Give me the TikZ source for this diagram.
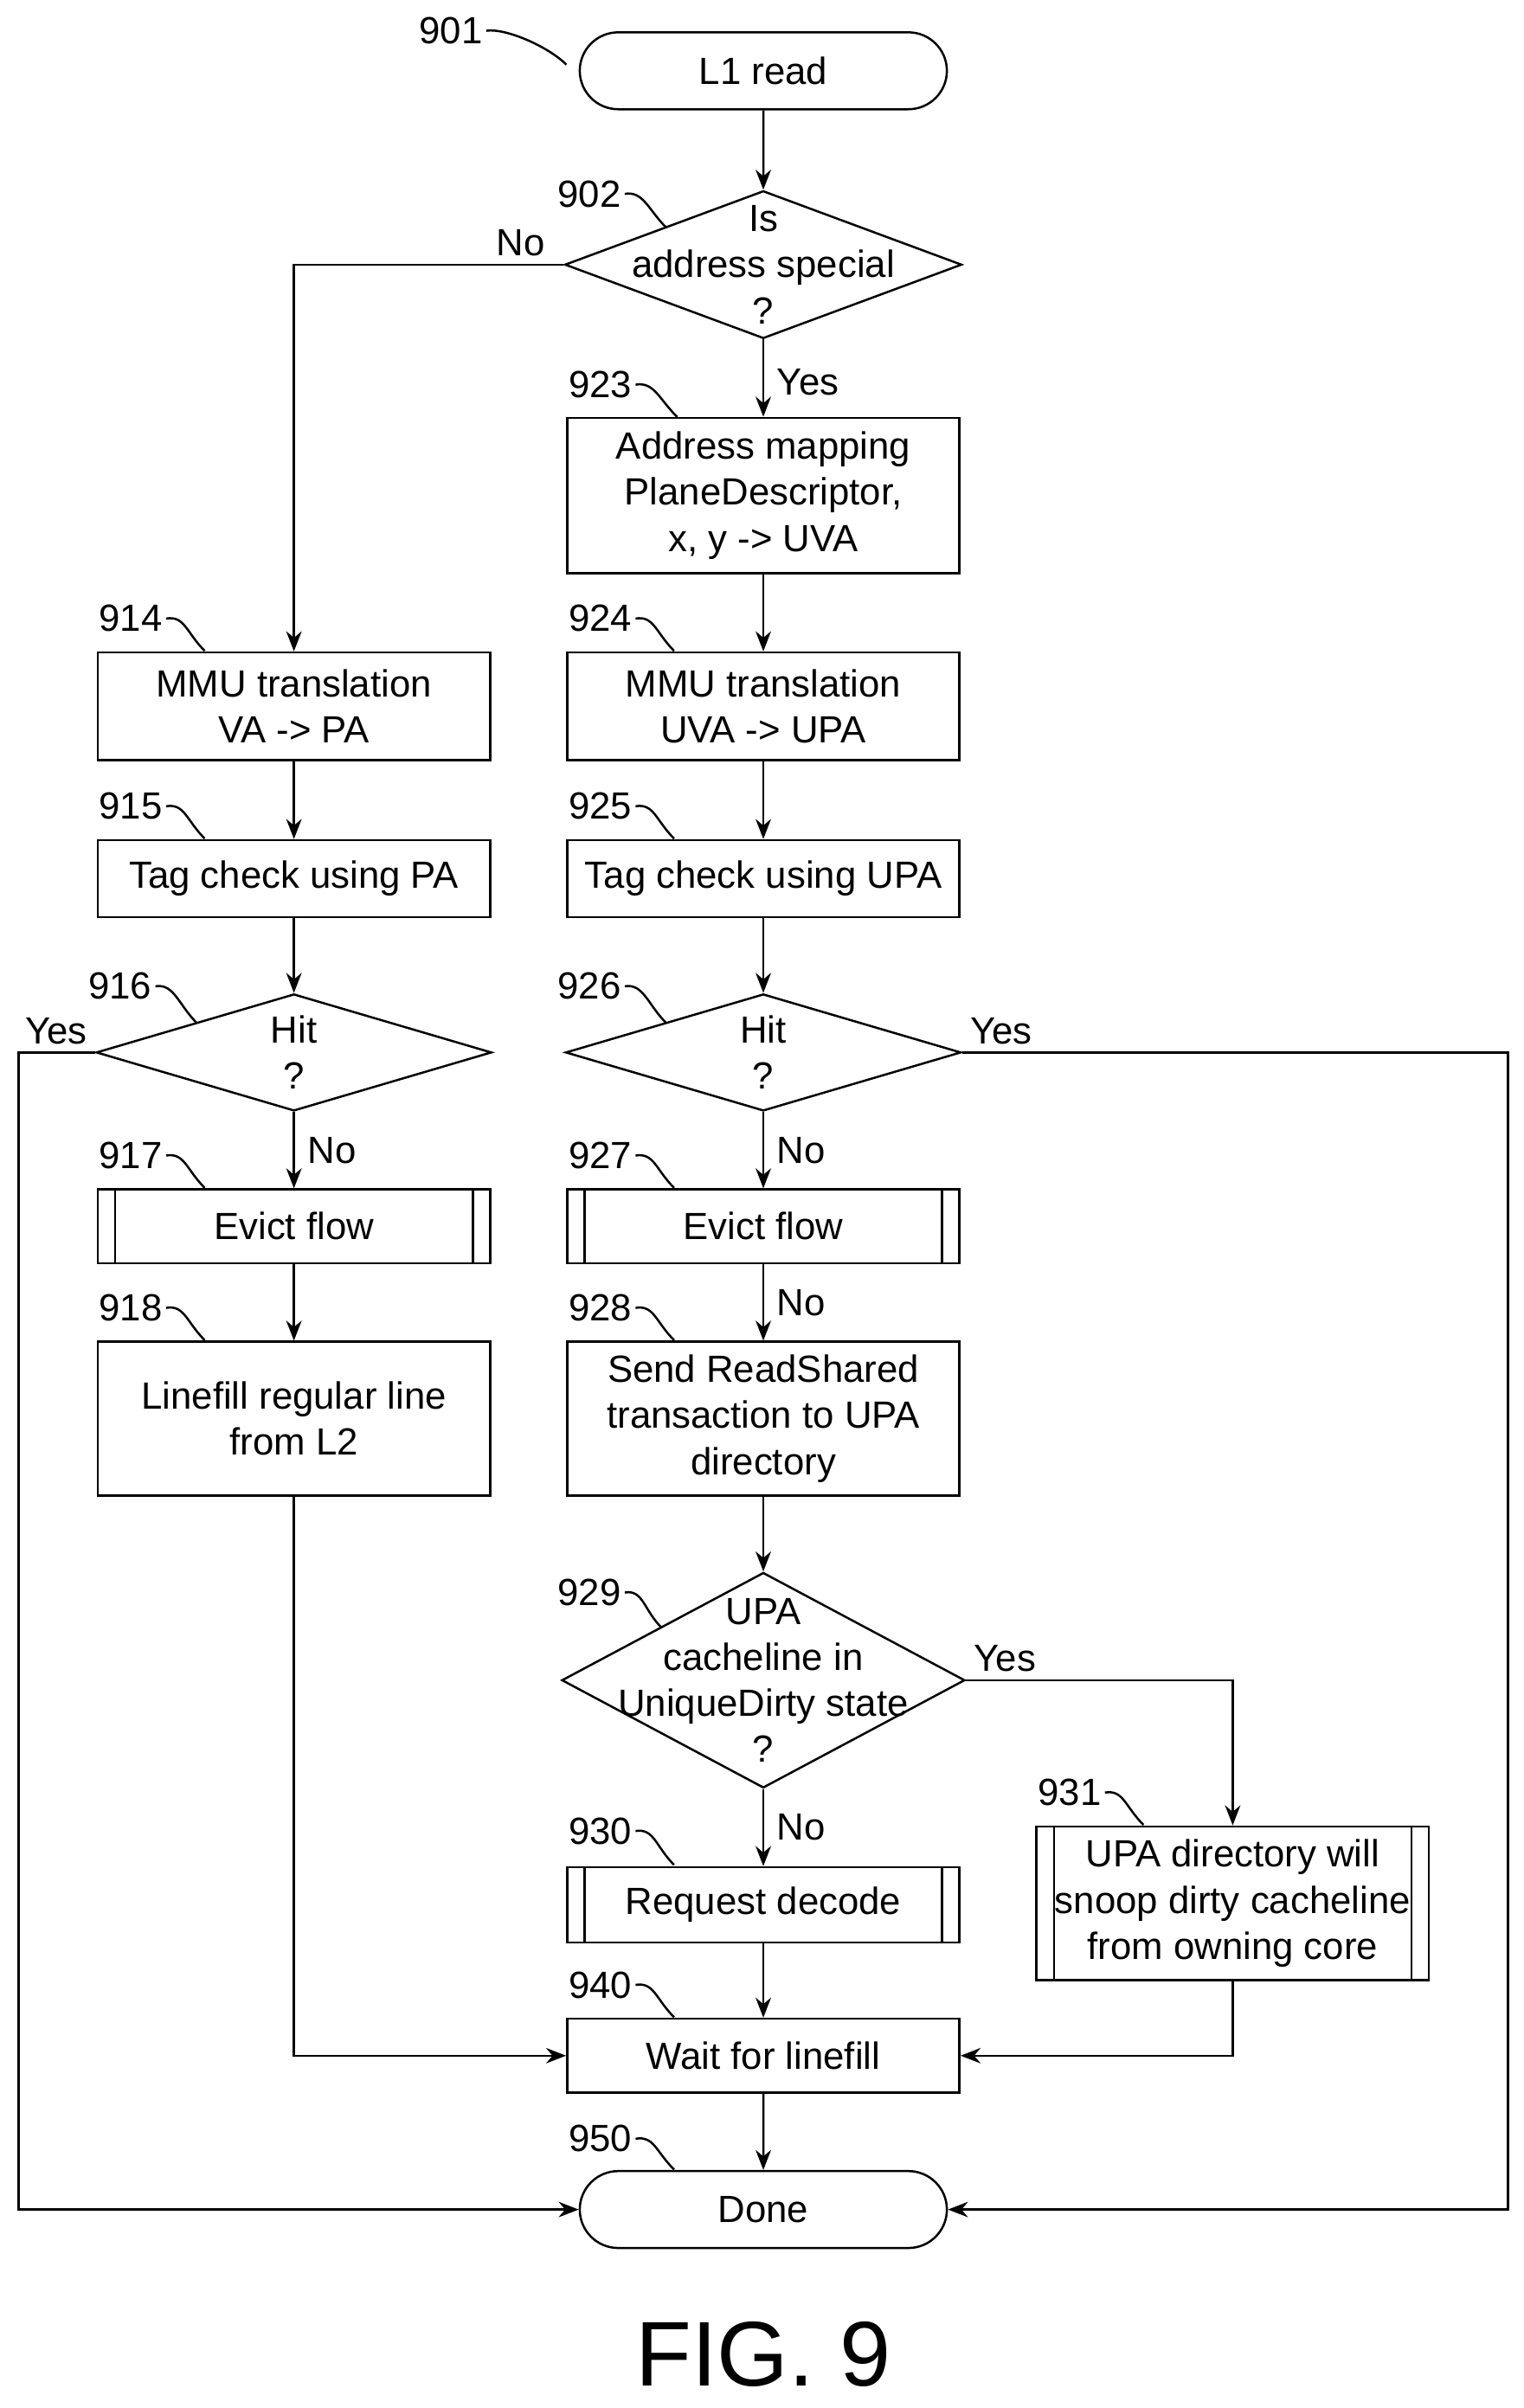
\documentclass[tikz,border=0pt]{standalone}
\usepackage{fontspec}
\setmainfont{Liberation Sans}
\usetikzlibrary{shapes.geometric,arrows.meta}
\tikzset{
  box/.style={draw, rectangle, minimum width=5.1cm, align=center},
  term/.style={draw, rounded rectangle, minimum width=5.1cm, minimum height=1cm},
  dia/.style={draw, diamond, inner sep=0pt},
  flow/.style={draw, -{Stealth[length=2.6mm,width=2mm]}},
  tag/.style={inner sep=1pt},
}
\usetikzlibrary{shapes.misc}
\newcommand{\subbars}[1]{%
  \draw ([xshift=0.24cm]#1.north west) -- ([xshift=0.24cm]#1.south west);
  \draw ([xshift=-0.24cm]#1.north east) -- ([xshift=-0.24cm]#1.south east);}
\begin{document}
\fontsize{14}{17}\selectfont
\begin{tikzpicture}[x=0.02cm,y=-0.02cm,line width=0.8pt]
\useasboundingbox (0,0) rectangle (990,1565);
\node[term] (901) at (496,46) {L1 read};
\node[dia, minimum width=5.16cm, minimum height=1.92cm] (902) at (496,172) {};
\node[align=center] at (496,172) {Is\\address special\\?};
\node[box, minimum height=2.02cm] (923) at (496,322) {Address mapping\\PlaneDescriptor,\\x, y -> UVA};
\node[box, minimum height=1.4cm] (914) at (191,459) {MMU translation\\VA -> PA};
\node[box, minimum height=1.4cm] (924) at (496,459) {MMU translation\\UVA -> UPA};
\node[box, minimum height=1cm] (915) at (191,571) {Tag check using PA};
\node[box, minimum height=1cm] (925) at (496,571) {Tag check using UPA};
\node[dia, minimum width=5.14cm, minimum height=1.52cm] (916) at (191,684) {};
\node[align=center] at (191,684) {Hit\\?};
\node[dia, minimum width=5.14cm, minimum height=1.52cm] (926) at (496,684) {};
\node[align=center] at (496,684) {Hit\\?};
\node[box, minimum height=0.96cm] (917) at (191,797) {Evict flow};
\node[box, minimum height=0.96cm] (927) at (496,797) {Evict flow};
\node[box, minimum height=2cm] (918) at (191,922) {Linefill regular line\\from L2};
\node[box, minimum height=2cm] (928) at (496,922) {Send ReadShared\\transaction to UPA\\directory};
\node[dia, minimum width=5.24cm, minimum height=2.8cm] (929) at (496,1092) {};
\node[align=center] at (496,1092) {UPA\\cacheline in\\UniqueDirty state\\?};
\node[box, minimum height=0.98cm] (930) at (496,1238) {Request decode};
\node[box, minimum height=2cm] (931) at (801,1237) {UPA directory will\\snoop dirty cacheline\\from owning core};
\node[box, minimum height=0.96cm] (940) at (496,1336) {Wait for linefill};
\node[term] (950) at (496,1436) {Done};
\node at (496,1530) {\fontsize{34}{40}\selectfont FIG. 9};
\subbars{917}\subbars{927}\subbars{930}\subbars{931}

% connectors
\path[flow] (901) -- (902);
\path[flow] (902.west) -| node[pos=0.02,above left=-2pt] {No} (914.north);
\path[flow] (902.south) -- node[right,pos=0.55] {Yes} (923);
\path[flow] (923) -- (924);
\path[flow] (924) -- (925);
\path[flow] (925) -- (926);
\path[flow] (914) -- (915);
\path[flow] (915) -- (916);
\coordinate (c916) at (12,1436);
\path[flow] (916.west) node[above left=-2pt] {Yes} -| (c916) -- (950.west);
\path[flow] (916.south) -- node[right] {No} (917);
\path[flow] (917) -- (918);
\path[flow] (918.south) |- (940.west);
\coordinate (c926) at (980,1436);
\path[flow] (926.east) node[above right=-2pt] {Yes} -| (c926) -- (950.east);
\path[flow] (926.south) -- node[right] {No} (927);
\path[flow] (927) -- node[right] {No} (928);
\path[flow] (928) -- (929);
\path[flow] (929.east) node[above right=-2pt] {Yes} -| (931.north);
\path[flow] (929.south) -- node[right] {No} (930);
\path[flow] (930) -- (940);
\path[flow] (931.south) |- (940.east);
\path[flow] (940) -- (950);

% reference numerals
\foreach \n/\lx/\ly/\tx/\ty in {901/293/20/368/42, 902/383/126/433/148,
  923/390/250/440/271, 914/85/402/133/423, 924/390/402/438/423,
  915/85/524/133/545, 925/390/524/438/545, 916/78/641/128/665,
  926/383/641/433/665, 917/85/751/133/772, 927/390/751/438/772,
  918/85/850/133/871, 928/390/850/438/871, 929/383/1035/430/1058,
  930/390/1190/438/1212, 931/695/1165/743/1186, 940/390/1290/438/1311,
  950/390/1390/438/1410}{
  \node[tag] (l\n) at (\lx,\ly) {\n};
  \draw (l\n.east) .. controls +(12,-2) and +(-12,-12) .. (\tx,\ty);
}
\end{tikzpicture}
\end{document}
